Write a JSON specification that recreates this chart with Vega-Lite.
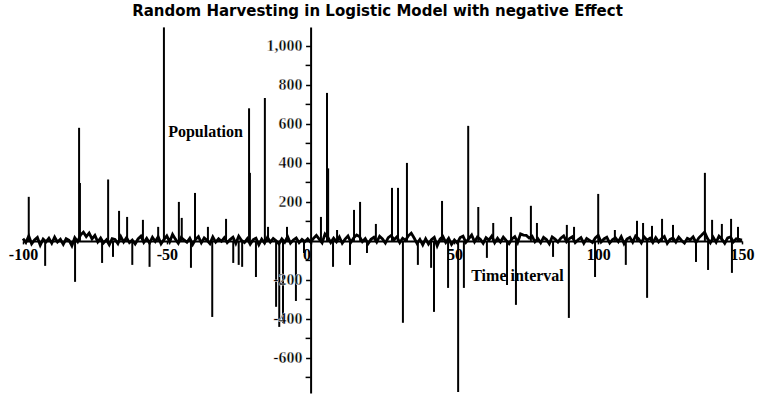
{
  "$schema": "https://vega.github.io/schema/vega-lite/v6.json",
  "width": 719,
  "height": 366,
  "autosize": {"type": "none"},
  "padding": {"left": 23, "top": 27, "right": 15, "bottom": 3},
  "background": "white",
  "title": {
    "text": "Random Harvesting in Logistic Model with negative Effect",
    "font": "DejaVu Sans",
    "fontSize": 15,
    "fontWeight": 900,
    "color": "black",
    "anchor": "middle",
    "offset": 7,
    "dx": -5
  },
  "config": {
    "view": {"stroke": null},
    "axis": {
      "grid": false,
      "domainColor": "black",
      "domainWidth": 2,
      "tickColor": "black",
      "tickWidth": 1.5,
      "labelColor": "black",
      "labelFont": "Liberation Serif",
      "labelFontSize": 16,
      "labelFontWeight": "bold",
      "titleColor": "black",
      "titleFont": "Liberation Serif",
      "titleFontSize": 16,
      "titleFontWeight": "bold",
      "labelFlush": false,
      "labelOverlap": false,
      "labelBound": false
    }
  },
  "datasets": {
    "noise": [
      {"t":-100,"p":12},{"t":-99,"p":-8},{"t":-98,"p":25},{"t":-97,"p":-15},{"t":-96,"p":5},{"t":-95,"p":18},{"t":-94,"p":-22},{"t":-93,"p":9},{"t":-92,"p":-5},{"t":-91,"p":14},
      {"t":-90,"p":-12},{"t":-89,"p":20},{"t":-88,"p":-6},{"t":-87,"p":8},{"t":-86,"p":-18},{"t":-85,"p":11},{"t":-84,"p":3},{"t":-83,"p":-25},{"t":-82,"p":16},{"t":-81,"p":-4},
      {"t":-80,"p":30},{"t":-79,"p":45},{"t":-78,"p":22},{"t":-77,"p":40},{"t":-76,"p":10},{"t":-75,"p":28},{"t":-74,"p":-5},{"t":-73,"p":15},{"t":-72,"p":-10},{"t":-71,"p":6},
      {"t":-70,"p":-20},{"t":-69,"p":12},{"t":-68,"p":8},{"t":-67,"p":-14},{"t":-66,"p":22},{"t":-65,"p":-6},{"t":-64,"p":17},{"t":-63,"p":-9},{"t":-62,"p":4},{"t":-61,"p":-16},
      {"t":-60,"p":10},{"t":-59,"p":24},{"t":-58,"p":-8},{"t":-57,"p":13},{"t":-56,"p":-11},{"t":-55,"p":19},{"t":-54,"p":-3},{"t":-53,"p":21},{"t":-52,"p":-15},{"t":-51,"p":7},
      {"t":-50,"p":26},{"t":-49,"p":-4},{"t":-48,"p":33},{"t":-47,"p":9},{"t":-46,"p":-12},{"t":-45,"p":18},{"t":-44,"p":5},{"t":-43,"p":-7},{"t":-42,"p":14},{"t":-41,"p":-18},
      {"t":-40,"p":8},{"t":-39,"p":22},{"t":-38,"p":-10},{"t":-37,"p":15},{"t":-36,"p":3},{"t":-35,"p":-14},{"t":-34,"p":20},{"t":-33,"p":-6},{"t":-32,"p":11},{"t":-31,"p":-2},
      {"t":-30,"p":16},{"t":-29,"p":-9},{"t":-28,"p":7},{"t":-27,"p":19},{"t":-26,"p":-13},{"t":-25,"p":24},{"t":-24,"p":2},{"t":-23,"p":-8},{"t":-22,"p":12},{"t":-21,"p":-17},
      {"t":-20,"p":6},{"t":-19,"p":14},{"t":-18,"p":-20},{"t":-17,"p":9},{"t":-16,"p":-11},{"t":-15,"p":18},{"t":-14,"p":-6},{"t":-13,"p":13},{"t":-12,"p":1},{"t":-11,"p":-15},
      {"t":-10,"p":10},{"t":-9,"p":-7},{"t":-8,"p":22},{"t":-7,"p":-12},{"t":-6,"p":5},{"t":-5,"p":15},{"t":-4,"p":-9},{"t":-3,"p":8},{"t":-2,"p":-4},{"t":-1,"p":11},
      {"t":0,"p":-6},{"t":1,"p":13},{"t":2,"p":28},{"t":3,"p":9},{"t":4,"p":-10},{"t":5,"p":35},{"t":6,"p":18},{"t":7,"p":-8},{"t":8,"p":14},{"t":9,"p":-5},
      {"t":10,"p":20},{"t":11,"p":-12},{"t":12,"p":9},{"t":13,"p":25},{"t":14,"p":-7},{"t":15,"p":16},{"t":16,"p":30},{"t":17,"p":22},{"t":18,"p":-4},{"t":19,"p":12},
      {"t":20,"p":-14},{"t":21,"p":8},{"t":22,"p":19},{"t":23,"p":-6},{"t":24,"p":24},{"t":25,"p":10},{"t":26,"p":-11},{"t":27,"p":17},{"t":28,"p":28},{"t":29,"p":6},
      {"t":30,"p":21},{"t":31,"p":-9},{"t":32,"p":14},{"t":33,"p":3},{"t":34,"p":26},{"t":35,"p":40},{"t":36,"p":15},{"t":37,"p":-13},{"t":38,"p":8},{"t":39,"p":-20},
      {"t":40,"p":11},{"t":41,"p":-16},{"t":42,"p":6},{"t":43,"p":18},{"t":44,"p":-25},{"t":45,"p":9},{"t":46,"p":22},{"t":47,"p":-8},{"t":48,"p":13},{"t":49,"p":-18},
      {"t":50,"p":5},{"t":51,"p":-10},{"t":52,"p":17},{"t":53,"p":24},{"t":54,"p":-7},{"t":55,"p":12},{"t":56,"p":30},{"t":57,"p":-5},{"t":58,"p":20},{"t":59,"p":9},
      {"t":60,"p":-12},{"t":61,"p":16},{"t":62,"p":4},{"t":63,"p":25},{"t":64,"p":-9},{"t":65,"p":14},{"t":66,"p":-6},{"t":67,"p":19},{"t":68,"p":2},{"t":69,"p":-14},
      {"t":70,"p":10},{"t":71,"p":22},{"t":72,"p":-8},{"t":73,"p":36},{"t":74,"p":30},{"t":75,"p":28},{"t":76,"p":15},{"t":77,"p":24},{"t":78,"p":-5},{"t":79,"p":12},
      {"t":80,"p":-10},{"t":81,"p":18},{"t":82,"p":7},{"t":83,"p":-15},{"t":84,"p":20},{"t":85,"p":9},{"t":86,"p":-6},{"t":87,"p":14},{"t":88,"p":26},{"t":89,"p":-4},
      {"t":90,"p":12},{"t":91,"p":21},{"t":92,"p":-9},{"t":93,"p":6},{"t":94,"p":17},{"t":95,"p":-12},{"t":96,"p":13},{"t":97,"p":3},{"t":98,"p":-8},{"t":99,"p":15},
      {"t":100,"p":28},{"t":101,"p":-6},{"t":102,"p":10},{"t":103,"p":19},{"t":104,"p":-11},{"t":105,"p":7},{"t":106,"p":16},{"t":107,"p":-4},{"t":108,"p":22},{"t":109,"p":-14},
      {"t":110,"p":9},{"t":111,"p":18},{"t":112,"p":-7},{"t":113,"p":25},{"t":114,"p":12},{"t":115,"p":-10},{"t":116,"p":20},{"t":117,"p":4},{"t":118,"p":14},{"t":119,"p":-9},
      {"t":120,"p":17},{"t":121,"p":-5},{"t":122,"p":11},{"t":123,"p":23},{"t":124,"p":-13},{"t":125,"p":8},{"t":126,"p":15},{"t":127,"p":-6},{"t":128,"p":19},{"t":129,"p":2},
      {"t":130,"p":-11},{"t":131,"p":13},{"t":132,"p":6},{"t":133,"p":21},{"t":134,"p":-8},{"t":135,"p":16},{"t":136,"p":30},{"t":137,"p":45},{"t":138,"p":12},{"t":139,"p":-10},
      {"t":140,"p":18},{"t":141,"p":-7},{"t":142,"p":24},{"t":143,"p":9},{"t":144,"p":-12},{"t":145,"p":15},{"t":146,"p":20},{"t":147,"p":-5},{"t":148,"p":11},{"t":149,"p":8},
      {"t":150,"p":4}
    ],
    "spikes": [
      {"t":-98,"p":226},{"t":-80.5,"p":580},{"t":-80.2,"p":297},{"t":-70.4,"p":315},{"t":-66.6,"p":154},{"t":-63.8,"p":123},{"t":-58.3,"p":108},{"t":-53,"p":72},{"t":-51,"p":1095},{"t":-45.8,"p":200},{"t":-44.8,"p":118},{"t":-40.2,"p":246},{"t":-35.7,"p":72},{"t":-29.4,"p":113},{"t":-21.4,"p":680},{"t":-21.1,"p":349},{"t":-15.9,"p":733},{"t":-14.8,"p":72},{"t":-8.2,"p":72},{"t":3.6,"p":123},{"t":5.7,"p":759},{"t":6.1,"p":372},{"t":9.2,"p":56},{"t":15.1,"p":159},{"t":17.2,"p":200},{"t":22.7,"p":87},{"t":28.3,"p":272},{"t":30.4,"p":272},{"t":33.5,"p":400},{"t":45.7,"p":205},{"t":54.8,"p":590},{"t":58.3,"p":174},{"t":63.5,"p":92},{"t":69.7,"p":123},{"t":76.6,"p":180},{"t":78.7,"p":92},{"t":89.1,"p":82},{"t":91.6,"p":72},{"t":100,"p":241},{"t":105.8,"p":56},{"t":113.5,"p":103},{"t":115.6,"p":92},{"t":118.7,"p":77},{"t":122.2,"p":113},{"t":126,"p":82},{"t":137.1,"p":349},{"t":139.6,"p":108},{"t":143,"p":87},{"t":146.2,"p":113},{"t":148.6,"p":72},
      {"t":-92.3,"p":-128},{"t":-81.9,"p":-210},{"t":-72.5,"p":-113},{"t":-68.7,"p":-82},{"t":-62,"p":-123},{"t":-56,"p":-133},{"t":-41.6,"p":-138},{"t":-34.2,"p":-390},{"t":-26.9,"p":-113},{"t":-25,"p":-123},{"t":-23.8,"p":-133},{"t":-19,"p":-185},{"t":-12,"p":-338},{"t":-10.9,"p":-441},{"t":-9.6,"p":-420},{"t":-5.1,"p":-308},{"t":-2.3,"p":-62},{"t":7.8,"p":-133},{"t":13.7,"p":-123},{"t":19.6,"p":-62},{"t":32.1,"p":-420},{"t":37.3,"p":-123},{"t":41.9,"p":-138},{"t":42.9,"p":-364},{"t":47.8,"p":-241},{"t":51.3,"p":-775},{"t":53.3,"p":-241},{"t":61.3,"p":-87},{"t":68.3,"p":-226},{"t":71.4,"p":-328},{"t":84.3,"p":-82},{"t":89.8,"p":-395},{"t":98.9,"p":-185},{"t":109.6,"p":-123},{"t":117,"p":-292},{"t":134,"p":-108},{"t":138.2,"p":-149},{"t":146.5,"p":-164}
    ],
    "minorTicks": [
      {"v":-700},{"v":-500},{"v":-300},{"v":-100},{"v":100},{"v":300},{"v":500},{"v":700},{"v":900}
    ],
    "yLabels": [
      {"v":1000,"s":"1,000"},{"v":800,"s":"800"},{"v":600,"s":"600"},{"v":400,"s":"400"},{"v":200,"s":"200"},{"v":-200,"s":"-200"},{"v":-400,"s":"-400"},{"v":-600,"s":"-600"}
    ]
  },
  "layer": [
    {
      "data": {"name": "spikes"},
      "mark": {"type": "rule", "color": "black", "strokeWidth": 2},
      "encoding": {
        "x": {
          "field": "t", "type": "quantitative",
          "scale": {"domain": [-100, 150], "nice": false, "zero": false},
          "axis": {
            "orient": "bottom",
            "offset": -152.1,
            "values": [-100, -50, 0, 50, 100, 150],
            "tickSize": 3,
            "labelPadding": 3,
            "labelOverlap": false,
            "labelAlign": {"condition": {"test": "datum.value == 0", "value": "right"}, "value": "center"},
            "labelExpr": "(datum.value < 0 ? '-' : '') + format(abs(datum.value), 'd')",
            "title": "Time interval",
            "titleX": 494,
            "titleY": 35,
            "titleAlign": "center",
            "titleBaseline": "middle",
            "zindex": 0
          }
        },
        "y": {
          "field": "p", "type": "quantitative",
          "scale": {"domain": [-780, 1097], "nice": false, "zero": false},
          "axis": {
            "orient": "left",
            "offset": -287.6,
            "values": [-600, -400, -200, 200, 400, 600, 800, 1000],
            "tickSize": 5,
            "labels": false,
            "title": "Population",
            "titleAngle": 0,
            "titleX": -105.6,
            "titleY": 104,
            "titleAlign": "center",
            "titleBaseline": "middle",
            "zindex": 0
          }
        },
        "y2": {"datum": 0}
      }
    },
    {
      "data": {"name": "minorTicks"},
      "mark": {"type": "rule", "color": "black", "strokeWidth": 1.5},
      "encoding": {
        "x": {"datum": -1.74, "type": "quantitative"},
        "x2": {"datum": 0},
        "y": {"field": "v", "type": "quantitative"}
      }
    },
    {
      "data": {"name": "noise"},
      "mark": {"type": "line", "color": "black", "strokeWidth": 2.8, "interpolate": "linear"},
      "encoding": {
        "x": {"field": "t", "type": "quantitative"},
        "y": {"field": "p", "type": "quantitative"}
      }
    },
    {
      "data": {"name": "yLabels"},
      "mark": {"type": "text", "align": "right", "baseline": "middle", "dx": -8, "font": "Liberation Serif", "fontSize": 16, "fontWeight": "bold", "color": "black", "stroke": "white", "strokeWidth": 0.4},
      "encoding": {
        "x": {"datum": 0, "type": "quantitative"},
        "y": {"field": "v", "type": "quantitative"},
        "text": {"field": "s", "type": "nominal"}
      }
    }
  ]
}
